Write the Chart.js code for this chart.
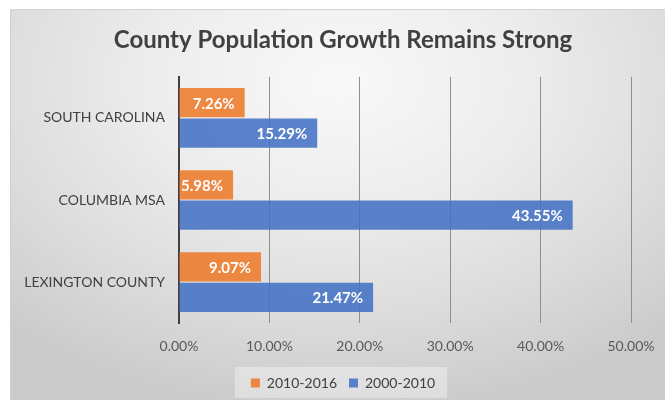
<!DOCTYPE html>
<html>
<head>
<meta charset="utf-8">
<script src="https://cdn.jsdelivr.net/npm/chart.js@4"></script>
<style>
  html, body { margin: 0; padding: 0; background: #ffffff; }
  body { width: 665px; height: 400px; position: relative; overflow: hidden; }
  #wrap {
    position: absolute; left: 10px; top: 9px; width: 655px; height: 391px;
    background: radial-gradient(ellipse 75% 85% at 50% 18%, #f9f9f9 0%, #ececec 40%, #dadada 75%, #cbcbcb 100%);
    border-top: 1px solid #d4d4d4;
    border-left: 1px solid #d0d0d0;
    box-sizing: border-box;
  }
  #c { position: absolute; left: 0; top: 0; }
</style>
</head>
<body>
<div id="wrap"><canvas id="c" width="654" height="390"></canvas></div>
<script>
const chartTitle = "County Population Growth Remains Strong";
const categories = ["SOUTH CAROLINA", "COLUMBIA MSA", "LEXINGTON COUNTY"];
const seriesNames = ["2010-2016", "2000-2010"];
const growth2010_2016 = [7.26, 5.98, 9.07];
const growth2000_2010 = [15.29, 43.55, 21.47];
const xTickValues = [0, 10, 20, 30, 40, 50];

const FONT = "Lato, 'Open Sans', sans-serif";

const valueLabels = {
  id: 'valueLabels',
  afterDatasetsDraw(chart) {
    const ctx = chart.ctx;
    ctx.save();
    ctx.font = "bold 15px " + FONT;
    ctx.fillStyle = "#ffffff";
    ctx.textAlign = "right";
    ctx.textBaseline = "middle";
    chart.data.datasets.forEach((ds, i) => {
      chart.getDatasetMeta(i).data.forEach((bar, j) => {
        ctx.fillText(ds.data[j].toFixed(2) + "%", bar.x - 10, bar.y + 1);
      });
    });
    ctx.restore();
  }
};

const legendBg = {
  id: 'legendBg',
  beforeDraw(chart) {
    const lg = chart.legend;
    if (!lg || !lg.legendHitBoxes || !lg.legendHitBoxes.length) return;
    const hb = lg.legendHitBoxes;
    const l = hb[0].left - 16, r = hb[hb.length - 1].left + hb[hb.length - 1].width + 12;
    const t = hb[0].top - 9, b = hb[0].top + hb[0].height + 8;
    const ctx = chart.ctx;
    ctx.save();
    ctx.fillStyle = "rgba(255,255,255,0.35)";
    ctx.fillRect(l, t, r - l, b - t);
    ctx.restore();
  }
};

new Chart(document.getElementById('c'), {
  type: 'bar',
  data: {
    labels: categories,
    datasets: [
      { label: seriesNames[0], data: growth2010_2016, backgroundColor: "rgba(237,125,49,0.9)", borderWidth: 0 },
      { label: seriesNames[1], data: growth2000_2010, backgroundColor: "rgba(68,114,196,0.88)", borderWidth: 0 }
    ]
  },
  options: {
    indexAxis: 'y',
    responsive: false,
    animation: false,
    devicePixelRatio: 1,
    categoryPercentage: 0.74,
    barPercentage: 0.96,
    layout: { padding: { left: 10, right: 0, top: 0, bottom: 0 } },
    plugins: {
      title: {
        display: true, text: chartTitle, color: "#404040",
        font: { family: FONT, size: 24, weight: 'bold' },
        padding: { top: 16, bottom: 22 }
      },
      legend: {
        display: true, position: 'bottom',
        labels: {
          color: "#404040", font: { family: FONT, size: 14 },
          boxWidth: 9, boxHeight: 9, padding: 12, useBorderRadius: false
        }
      },
      tooltip: { enabled: false }
    },
    scales: {
      x: {
        min: 0, max: 50,
        afterBuildTicks(scale) { scale.ticks = xTickValues.map(v => ({ value: v })); },
        afterFit(scale) { scale.paddingRight = 34; scale.height = scale.height - 6; },
        ticks: {
          color: "#595959", font: { family: FONT, size: 14 }, padding: 15,
          callback: v => Number(v).toFixed(2) + "%"
        },
        grid: { color: "#8f8f8f", lineWidth: 1, drawTicks: false },
        border: { display: false }
      },
      y: {
        ticks: { color: "#404040", font: { family: FONT, size: 14 }, padding: 14 },
        grid: { display: false, drawTicks: false },
        border: { display: true, color: "#404040", width: 2 },
        afterFit(scale) { scale.width = 158; }
      }
    }
  },
  plugins: [valueLabels, legendBg]
});
</script>
</body>
</html>
